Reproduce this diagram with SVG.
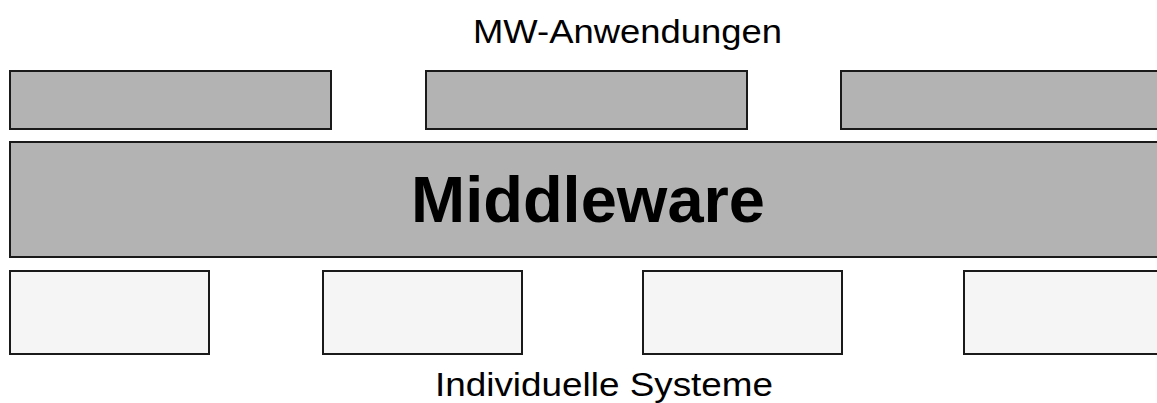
<svg xmlns="http://www.w3.org/2000/svg" width="1157" height="403" viewBox="0 0 1157 403">
<style>
.app{fill:#b3b3b3;stroke:#1a1a1a;stroke-width:2}
.sys{fill:#f5f5f5;stroke:#1a1a1a;stroke-width:2}
.lbl{font-family:"Liberation Sans",Arial,sans-serif;font-size:33px;fill:#000}
.mw{font-family:"Liberation Sans",Arial,sans-serif;font-size:65px;font-weight:bold;fill:#000}
</style>
<rect width="1157" height="403" fill="#fff"/>
<text class="lbl" x="473" y="43" textLength="309" lengthAdjust="spacingAndGlyphs">MW-Anwendungen</text>
<g id="app1"><rect class="app" x="10" y="71" width="321" height="58"/></g>
<g id="app2"><rect class="app" x="426" y="71" width="321" height="58"/></g>
<g id="app3"><rect class="app" x="841" y="71" width="330" height="58"/></g>
<g id="middleware"><rect class="app" x="10" y="142" width="1160" height="115"/>
<text class="mw" x="588" y="222" text-anchor="middle">Middleware</text></g>
<g id="sys1"><rect class="sys" x="10" y="271" width="199" height="83"/></g>
<g id="sys2"><rect class="sys" x="323" y="271" width="199" height="83"/></g>
<g id="sys3"><rect class="sys" x="643" y="271" width="199" height="83"/></g>
<g id="sys4"><rect class="sys" x="964" y="271" width="210" height="83"/></g>
<g id="connectors"></g>
<text class="lbl" x="435" y="396" textLength="338" lengthAdjust="spacingAndGlyphs">Individuelle Systeme</text>
</svg>
